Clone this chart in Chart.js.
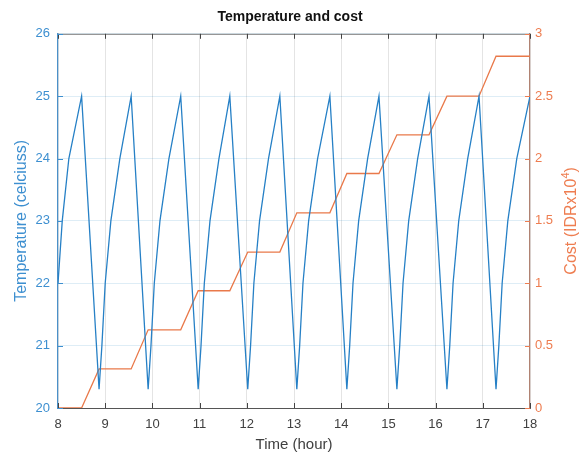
<!DOCTYPE html>
<html><head><meta charset="utf-8">
<script src="https://cdn.jsdelivr.net/npm/chart.js@4/dist/chart.umd.min.js"></script>
<style>html,body{margin:0;padding:0;background:#fff}#wrap{width:580px;height:457px}</style>
</head><body><div id="wrap"><canvas id="c" width="580" height="457"></canvas></div>
<script>
// ---- data ----
const tempHours = [8, 8.09, 8.23, 8.5,
  8.87, 8.93, 9.00, 9.12, 9.31, 9.55,
  9.91, 9.97, 10.04, 10.16, 10.35, 10.60,
  10.97, 11.03, 11.10, 11.22, 11.41, 11.64,
  12.02, 12.08, 12.15, 12.27, 12.46, 12.70,
  13.06, 13.12, 13.19, 13.31, 13.50, 13.76,
  14.12, 14.18, 14.25, 14.37, 14.56, 14.80,
  15.18, 15.24, 15.31, 15.43, 15.62, 15.86,
  16.24, 16.30, 16.37, 16.49, 16.68, 16.92,
  17.28, 17.34, 17.41, 17.53, 17.72, 18.00];
const tempValues = [22, 23, 24, 25,
  20.3, 21, 22, 23, 24, 25,
  20.3, 21, 22, 23, 24, 25,
  20.3, 21, 22, 23, 24, 25,
  20.3, 21, 22, 23, 24, 25,
  20.3, 21, 22, 23, 24, 25,
  20.3, 21, 22, 23, 24, 25,
  20.3, 21, 22, 23, 24, 25,
  20.3, 21, 22, 23, 24, 25,
  20.3, 21, 22, 23, 24, 25];
const costHours = [8, 8.5, 8.87, 9.55, 9.91, 10.60, 10.97, 11.64, 12.02, 12.70,
  13.06, 13.76, 14.12, 14.80, 15.18, 15.86, 16.24, 16.92, 17.28, 18];
const costValues = [0, 0, 0.313, 0.313, 0.627, 0.627, 0.94, 0.94, 1.25, 1.25,
  1.565, 1.565, 1.88, 1.88, 2.19, 2.19, 2.5, 2.5, 2.82, 2.82];
const xTickValues = [8, 9, 10, 11, 12, 13, 14, 15, 16, 17, 18];
const xTickLabels = ['8','9','10','11','12','13','14','15','16','17','18'];
const tempTickValues = [20, 21, 22, 23, 24, 25, 26];
const tempTickLabels = ['20','21','22','23','24','25','26'];
const costTickValues = [0, 0.5, 1, 1.5, 2, 2.5, 3];
const costTickLabels = ['0','0.5','1','1.5','2','2.5','3'];

const FONT = "'Liberation Sans', Arial, Helvetica, sans-serif";
const BLUE = '#2680c6', ORANGE = '#e9794a';
const BLUE_TXT = '#3d8fd0', ORANGE_TXT = '#ee7d50';

const toPts = (xs, ys) => xs.map((x, i) => ({x, y: ys[i]}));

const deco = {
  id: 'deco',
  afterDatasetsDraw(chart) {
    const {ctx, chartArea: {left, right, top, bottom}, scales: {x, y, y1}} = chart;
    ctx.save();
    ctx.lineWidth = 1;
    // top border
    ctx.strokeStyle = '#7c7c7c';
    ctx.beginPath(); ctx.moveTo(left, top + 0.5); ctx.lineTo(right, top + 0.5); ctx.stroke();
    // x ticks (inside, bottom and top)
    ctx.strokeStyle = '#444';
    x.ticks.forEach(t => {
      const px = Math.round(x.getPixelForValue(t.value)) + 0.5;
      ctx.beginPath();
      ctx.moveTo(px, bottom); ctx.lineTo(px, bottom - 5);
      ctx.moveTo(px, top); ctx.lineTo(px, top + 5);
      ctx.stroke();
    });
    // left ticks
    ctx.strokeStyle = '#3d8fd0';
    y.ticks.forEach(t => {
      const py = Math.round(y.getPixelForValue(t.value)) + 0.5;
      ctx.beginPath(); ctx.moveTo(left, py); ctx.lineTo(left + 5, py); ctx.stroke();
    });
    // right ticks
    ctx.strokeStyle = ORANGE_TXT;
    y1.ticks.forEach(t => {
      const py = Math.round(y1.getPixelForValue(t.value)) + 0.5;
      ctx.beginPath(); ctx.moveTo(right, py); ctx.lineTo(right - 5, py); ctx.stroke();
    });
    // right axis title, reading bottom-to-top with superscript
    const main = 'Cost (IDRx10', sup = '4', close = ')';
    ctx.fillStyle = ORANGE_TXT;
    ctx.font = '16px ' + FONT;
    const w1 = ctx.measureText(main).width, w3 = ctx.measureText(close).width;
    ctx.font = '11px ' + FONT;
    const w2 = ctx.measureText(sup).width;
    const total = w1 + w2 + w3;
    ctx.translate(572, (top + bottom) / 2);
    ctx.rotate(-Math.PI / 2);
    ctx.textBaseline = 'middle';
    ctx.textAlign = 'left';
    let cx = -total / 2;
    ctx.font = '16px ' + FONT;
    ctx.fillText(main, cx, 0); cx += w1;
    ctx.font = '11px ' + FONT;
    ctx.fillText(sup, cx, -6); cx += w2;
    ctx.font = '16px ' + FONT;
    ctx.fillText(close, cx, 0);
    ctx.restore();
  }
};

new Chart(document.getElementById('c'), {
  type: 'scatter',
  data: {
    datasets: [
      { label: 'Temperature', data: toPts(tempHours, tempValues), yAxisID: 'y',
        showLine: true, borderColor: BLUE, borderWidth: 1.3, pointRadius: 0, tension: 0, fill: false },
      { label: 'Cost', data: toPts(costHours, costValues), yAxisID: 'y1',
        showLine: true, borderColor: ORANGE, borderWidth: 1.3, pointRadius: 0, tension: 0, fill: false }
    ]
  },
  options: {
    responsive: false, animation: false, devicePixelRatio: 1,
    layout: { padding: 0 },
    plugins: {
      legend: { display: false },
      tooltip: { enabled: false },
      title: { display: true, text: 'Temperature and cost', color: '#111',
        font: { family: FONT, size: 14, weight: 'bold' }, padding: { top: 9, bottom: 8 } }
    },
    scales: {
      x: {
        type: 'linear', position: 'bottom', min: 8, max: 18,
        afterBuildTicks: s => { s.ticks = xTickValues.map(v => ({ value: v })); },
        afterFit: s => { s.height = 49; },
        ticks: { callback: (v, i) => xTickLabels[i], color: '#404040', padding: 9, maxRotation: 0,
          font: { family: FONT, size: 13 } },
        grid: { color: '#e4e4e4', drawTicks: false },
        border: { color: '#555', width: 1 },
        title: { display: true, text: 'Time (hour)', color: '#404040',
          font: { family: FONT, size: 15 }, padding: { top: 0, bottom: 3 } }
      },
      y: {
        type: 'linear', position: 'left', min: 20, max: 26,
        afterBuildTicks: s => { s.ticks = tempTickValues.map(v => ({ value: v })); },
        afterFit: s => { s.width = 58; },
        ticks: { callback: (v, i) => tempTickLabels[i], color: BLUE_TXT, padding: 8,
          font: { family: FONT, size: 13 } },
        grid: { color: 'rgba(0,114,189,0.13)', drawTicks: false },
        border: { color: '#4a90c8', width: 1.2 },
        title: { display: true, text: 'Temperature (celciuss)', color: BLUE_TXT,
          font: { family: FONT, size: 16 }, padding: { top: 12, bottom: 0 } }
      },
      y1: {
        type: 'linear', position: 'right', min: 0, max: 3,
        afterBuildTicks: s => { s.ticks = costTickValues.map(v => ({ value: v })); },
        afterFit: s => { s.width = 50; },
        ticks: { callback: (v, i) => costTickLabels[i], color: ORANGE_TXT, padding: 5,
          font: { family: FONT, size: 13 } },
        grid: { drawOnChartArea: false, drawTicks: false },
        border: { color: '#b08272', width: 1.2 },
        title: { display: false }
      }
    }
  },
  plugins: [deco]
});
</script>
</body></html>
